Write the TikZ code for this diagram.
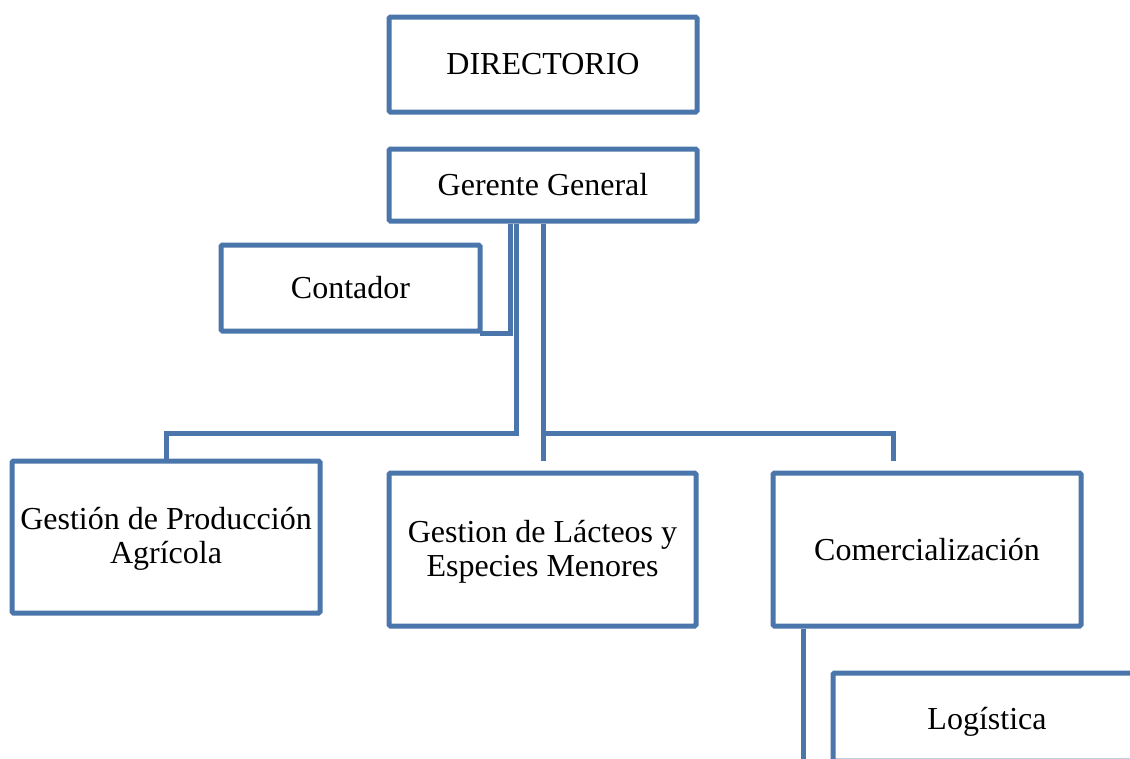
\documentclass[tikz,border=0pt]{standalone}
\usepackage{fontspec}
\setmainfont{Liberation Serif}
\definecolor{boxblue}{RGB}{74,118,171}
\begin{document}
\begin{tikzpicture}[x=1pt,y=-1pt,
  box/.style={draw=boxblue,line width=5pt,rounded corners=1.5pt,rectangle,inner sep=0pt,align=center,
    font=\fontsize{32}{34}\selectfont},
  conn/.style={draw=boxblue,line width=5pt}]
\useasboundingbox (0,0) rectangle (1130,758);
\clip (0,0) rectangle (1130,758);
\fill[white] (0,0) rectangle (1130,758);
\node[box,minimum width=308,minimum height=95] (dir) at (543,64.5) {DIRECTORIO};
\node[box,minimum width=308,minimum height=72] (gg) at (543,185) {Gerente General};
\node[box,minimum width=259,minimum height=86] (cont) at (350.5,288) {Contador};
\node[box,minimum width=308,minimum height=152] (gp) at (166,537) {\rule{0pt}{26pt}Gestión de Producción\\Agrícola};
\node[box,minimum width=307,minimum height=153] (lac) at (542.5,549.5) {\rule{0pt}{26pt}Gestion de Lácteos y\\Especies Menores};
\node[box,minimum width=308,minimum height=153] (com) at (927,549.5) {Comercialización};
\node[box,minimum width=308,minimum height=88,text height=31pt,text depth=7pt] (log) at (987,717) {Logística};
\coordinate (xA) at (510.5,0);
\coordinate (xB) at (516.5,0);
\coordinate (xC) at (543,0);
\coordinate (xD) at (893,0);
\coordinate (xE) at (803,0);
\coordinate (yH) at (0,433);
\draw[conn,shorten >=-2.5pt] (gg.south -| xA) |- (cont.south east);
\draw[conn] (gg.south -| xB) -- (xB |- yH) -| (gp.north);
\draw[conn] (gg.south -| xC) -- ([yshift=10pt]xC |- lac.north);
\draw[conn] (xC |- yH) -| ([yshift=10pt]xD |- com.north);
\draw[conn,shorten >=-2.5pt] (com.south -| xE) |- (log.south west);
\end{tikzpicture}
\end{document}
